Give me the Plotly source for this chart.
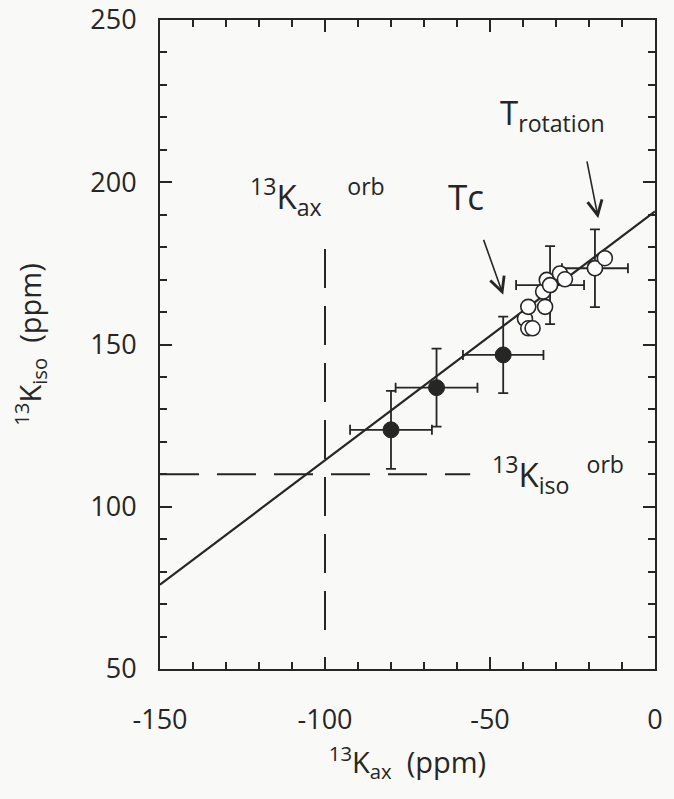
import plotly.graph_objects as go

# ---- data ----
filled_x = [-80.0, -66.2, -46.0]
filled_y = [123.7, 136.7, 146.8]
filled_xerr = [12.4, 12.4, 12.2]
filled_yerr = [12.0, 12.0, 11.8]

open_x = [-39.4, -38.4, -38.4, -37.1, -33.3, -33.9, -32.8, -31.8, -28.8, -27.3, -18.2, -15.2]
open_y = [157.9, 161.6, 155.0, 155.0, 161.6, 166.3, 169.9, 168.3, 171.9, 170.1, 173.5, 176.6]

open_err_x = [-31.8, -18.2]
open_err_y = [168.3, 173.5]
open_err_xerr = [10.3, 10.0]
open_err_yerr = [12.0, 12.0]

fit_x = [-150, 0]
fit_y = [76, 191]

K_ax_orb = -100
K_ax_orb_span = [62, 185]
K_iso_orb = 110
K_iso_orb_span = [-150, -56]

x_range = [-150, 0]
y_range = [50, 250]
x_ticks = [-150, -100, -50, 0]
x_ticklabels = ["-150", "-100", "-50", "0"]
y_ticks = [50, 100, 150, 200, 250]
y_ticklabels = ["50", "100", "150", "200", "250"]

INK = "#262626"
FONT = "Open Sans"

fig = go.Figure()

# reference dashed lines
fig.add_trace(go.Scatter(x=[K_ax_orb, K_ax_orb], y=K_ax_orb_span, mode="lines",
                         line=dict(color=INK, width=2, dash="39px,18px"), hoverinfo="skip"))
fig.add_trace(go.Scatter(x=K_iso_orb_span, y=[K_iso_orb, K_iso_orb], mode="lines",
                         line=dict(color=INK, width=2, dash="39px,18px"), hoverinfo="skip"))

# fit line
fig.add_trace(go.Scatter(x=fit_x, y=fit_y, mode="lines",
                         line=dict(color=INK, width=2.2), hoverinfo="skip"))

# filled points
fig.add_trace(go.Scatter(
    x=filled_x, y=filled_y, mode="markers",
    marker=dict(size=16, color=INK, line=dict(color=INK, width=1)),
    error_x=dict(type="data", array=filled_xerr, color=INK, thickness=1.8, width=5),
    error_y=dict(type="data", array=filled_yerr, color=INK, thickness=1.8, width=5),
))

# open points with error bars
fig.add_trace(go.Scatter(
    x=open_err_x, y=open_err_y, mode="markers",
    marker=dict(size=15, color="white", line=dict(color=INK, width=1.6)),
    error_x=dict(type="data", array=open_err_xerr, color=INK, thickness=1.8, width=5),
    error_y=dict(type="data", array=open_err_yerr, color=INK, thickness=1.8, width=5),
))

# open points
fig.add_trace(go.Scatter(
    x=open_x, y=open_y, mode="markers",
    marker=dict(size=15, color="white", line=dict(color=INK, width=1.6)),
))

annotations = [
    dict(x=-123.3, y=195.5, text="<sup>13</sup>K<sub>ax</sub>   <sup>orb</sup>",
         xanchor="left", yanchor="middle", showarrow=False, font=dict(size=33)),
    dict(x=-57.3, y=195.5, text="Tc", xanchor="center", yanchor="middle",
         showarrow=False, font=dict(size=35)),
    dict(x=-47.6, y=221, text="T<sub>rotation</sub>", xanchor="left", yanchor="middle",
         showarrow=False, font=dict(size=33)),
    dict(x=-50, y=110, text="<sup>13</sup>K<sub>iso</sub>  <sup>orb</sup>",
         xanchor="left", yanchor="middle", showarrow=False, font=dict(size=33)),
    dict(x=-46.0, y=165.3, ax=-52.1, ay=182.7, axref="x", ayref="y", text="",
         showarrow=True, arrowhead=5, arrowsize=1.8, arrowwidth=1.6, arrowcolor=INK),
    dict(x=-17.2, y=188.9, ax=-20.7, ay=206.9, axref="x", ayref="y", text="",
         showarrow=True, arrowhead=5, arrowsize=1.8, arrowwidth=1.6, arrowcolor=INK),
]
for a in annotations:
    a.setdefault("font", {})
    a["font"].setdefault("family", FONT)
    a["font"]["color"] = INK

axis_common = dict(
    showgrid=False, zeroline=False, showline=True, linewidth=2, linecolor=INK,
    mirror="allticks", ticks="inside", ticklen=12, tickwidth=2, tickcolor=INK,
    minor=dict(ticks="inside", ticklen=7, tickwidth=1.6, tickcolor=INK, dtick=10),
    tickfont=dict(family=FONT, size=27, color=INK), automargin=False,
)

fig.update_layout(
    width=674, height=799,
    margin=dict(l=160, r=19, t=20, b=130),
    paper_bgcolor="#f9f9f7", plot_bgcolor="#f9f9f7",
    showlegend=False,
    annotations=annotations,
    xaxis=dict(range=x_range, tickmode="array", tickvals=x_ticks, ticktext=x_ticklabels,
               ticklabelstandoff=26,
               title=dict(text="<sup>13</sup>K<sub>ax</sub>  (ppm)", standoff=16,
                          font=dict(family=FONT, size=29, color=INK)),
               **axis_common),
    yaxis=dict(range=y_range, tickmode="array", tickvals=y_ticks, ticktext=y_ticklabels,
               ticklabelstandoff=16,
               title=dict(text="<sup>13</sup>K<sub>iso</sub>  (ppm)", standoff=40,
                          font=dict(family=FONT, size=29, color=INK)),
               **axis_common),
)

fig.write_html("out.html")
